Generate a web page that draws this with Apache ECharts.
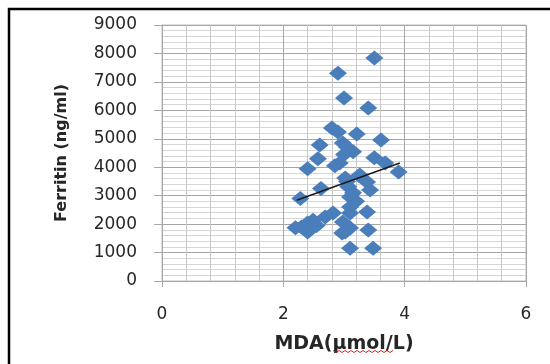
<!DOCTYPE html>
<html><head><meta charset="utf-8">
<script src="https://cdn.jsdelivr.net/npm/echarts@6/dist/echarts.min.js"></script>
<style>html,body{margin:0;padding:0;background:#fff}#c{width:550px;height:364px}</style>
</head><body><div id="c"></div>
<script>
// MDA (µmol/L) values
var mdaValues = [3.50,2.90,3.00,3.40,2.80,2.90,3.21,3.61,2.60,2.98,3.05,3.15,2.57,2.93,2.40,3.50,3.68,3.90,2.85,3.00,3.38,3.43,3.07,2.62,2.28,3.10,3.10,3.38,2.82,3.10,2.69,2.49,2.98,2.40,2.20,2.30,2.40,2.55,3.10,2.97,3.02,3.40,3.10,3.48,3.25,3.05,3.15,3.20,3.02,3.26];
// Ferritin (ng/ml) values
var ferritinValues = [7840,7300,6430,6080,5380,5240,5170,4960,4780,4850,4700,4540,4300,4150,3950,4330,4150,3830,4050,4450,3480,3200,3310,3250,2900,2950,2600,2430,2390,2390,2250,2140,2070,2040,1870,1900,1720,1950,1860,1690,1720,1790,1150,1150,3700,3500,3100,2800,3620,3730];
// Linear trend line end points
var trendX = [2.22, 3.92];
var trendY = [2840, 4150];
var xTicks = [0, 2, 4, 6];
var yTicks = [0,1000,2000,3000,4000,5000,6000,7000,8000,9000];

var pts = mdaValues.map(function(x,i){return [x, ferritinValues[i]];});
var trend = trendX.map(function(x,i){return [x, trendY[i]];});
var font = 'DejaVu Sans';
var chart = echarts.init(document.getElementById('c'));
chart.setOption({
  animation:false,
  grid:{left:162, top:25, right:24, bottom:83, show:true, borderColor:'#bfbfbf', borderWidth:1},
  xAxis:{type:'value', min:xTicks[0], max:xTicks[xTicks.length-1], interval:2,
    name:'MDA(µmol/L)', nameLocation:'middle', nameGap:54,
    nameTextStyle:{fontFamily:font, fontWeight:'bold', fontSize:19, color:'#262626'},
    axisLine:{show:true, lineStyle:{color:'#a6a6a6'}},
    axisTick:{show:true, length:6, lineStyle:{color:'#a6a6a6'}},
    axisLabel:{fontFamily:font, fontSize:17, color:'#262626', margin:25},
    splitLine:{show:true, lineStyle:{color:'#a6a6a6', width:1}},
    minorTick:{show:false, splitNumber:5},
    minorSplitLine:{show:true, lineStyle:{color:'#c8c8c8', width:1}}
  },
  yAxis:{type:'value', min:yTicks[0], max:yTicks[yTicks.length-1], interval:1000,
    name:'Ferritin (ng/ml)', nameLocation:'middle', nameGap:92,
    nameTextStyle:{fontFamily:font, fontWeight:'bold', fontSize:16, color:'#262626'},
    axisLine:{show:true, lineStyle:{color:'#a6a6a6'}},
    axisTick:{show:true, length:8, lineStyle:{color:'#a6a6a6'}},
    axisLabel:{fontFamily:font, fontSize:17, color:'#262626', margin:25,
      formatter:function(v){return String(v);}},
    splitLine:{show:true, lineStyle:{color:'#a6a6a6', width:1}},
    minorTick:{show:false, splitNumber:5},
    minorSplitLine:{show:true, lineStyle:{color:'#d6d6d6', width:1}}
  },
  series:[
    {type:'scatter', data:pts, symbol:'diamond', symbolSize:[18,15],
     itemStyle:{color:'#4a7ebb', opacity:1}},
    {type:'line', data:trend, symbol:'none', lineStyle:{color:'#1a1a1a', width:1.5}, z:5}
  ],
  graphic:[
    {type:'rect', shape:{x:9, y:9, width:600, height:400}, style:{fill:'none', stroke:'#000', lineWidth:2.5}, z:100},
    {type:'polyline', shape:{points:(function(){var a=[];for(var i=0;i<=20;i++){a.push([333+i*3, 351+(i%2?1.5:-0.5)]);}return a;})()},
     style:{stroke:'#e02020', lineWidth:1, fill:'none'}, z:100}
  ]
});
</script></body></html>
